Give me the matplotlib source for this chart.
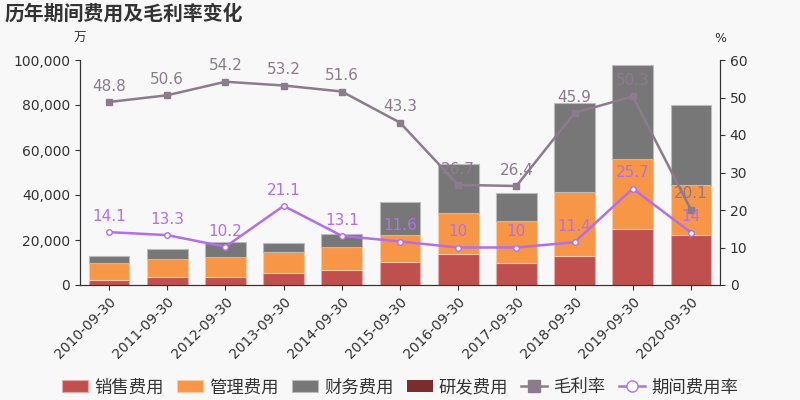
import matplotlib.pyplot as plt
import numpy as np
from matplotlib.ticker import FuncFormatter

plt.rcParams['font.family'] = ['DejaVu Sans', 'Noto Sans CJK SC']

dates = ['2010-09-30', '2011-09-30', '2012-09-30', '2013-09-30', '2014-09-30',
         '2015-09-30', '2016-09-30', '2017-09-30', '2018-09-30', '2019-09-30',
         '2020-09-30']
# 万元, stacked totals
sales = [2350, 3700, 3700, 5200, 6800, 10350, 13600, 9900, 12900, 24900, 22300]
admin = [7300, 8000, 8600, 9300, 9950, 11850, 18200, 18650, 28400, 31050, 22200]
finance = [3250, 4150, 6650, 4300, 5900, 14500, 21900, 12150, 39400, 41750, 35400]
rnd = [0, 0, 0, 0, 0, 0, 0, 0, 0, 0, 0]
gross_margin = [48.8, 50.6, 54.2, 53.2, 51.6, 43.3, 26.7, 26.4, 45.9, 50.3, 20.1]
expense_rate = [14.1, 13.3, 10.2, 21.1, 13.1, 11.6, 10, 10, 11.4, 25.7, 14]

c_sales = '#c0504d'
c_admin = '#f79646'
c_fin = '#777777'
c_rnd = '#7b2c2c'
c_gm = '#8c7b8c'
c_er = '#b36ee8'
bg = '#f8f8f8'

fig = plt.figure(figsize=(8, 4), dpi=100, facecolor=bg)
ax = fig.add_axes([0.1, 0.2875, 0.8, 0.5625], facecolor=bg)
ax2 = ax.twinx()

x = np.arange(len(dates))
w = 0.7
b1 = np.array(sales)
b2 = b1 + np.array(admin)
b3 = b2 + np.array(finance)
ax.bar(x, sales, w, color=c_sales, edgecolor='#e8a8a6', linewidth=0.8, label='销售费用')
ax.bar(x, admin, w, bottom=b1, color=c_admin, edgecolor='#fbcaa2', linewidth=0.8, label='管理费用')
ax.bar(x, finance, w, bottom=b2, color=c_fin, edgecolor='#bbbbbb', linewidth=0.8, label='财务费用')
ax.bar(x, rnd, w, bottom=b3, color=c_rnd, label='研发费用')

ax.set_xlim(-0.5, len(dates) - 0.5)
ax.set_ylim(0, 100000)
ax.set_yticks(np.arange(0, 100001, 20000))
ax.yaxis.set_major_formatter(FuncFormatter(lambda v, p: f'{int(v):,}'))
ax.set_xticks(x)
ax.set_xticklabels(dates, rotation=45, ha='right', rotation_mode='anchor', fontsize=10, color='#333333')

ax2.set_ylim(0, 60)
ax2.set_yticks(np.arange(0, 61, 10))

l1, = ax2.plot(x, gross_margin, color=c_gm, lw=1.8, marker='s', ms=4, label='毛利率')
l2, = ax2.plot(x, expense_rate, color=c_er, lw=1.8, marker='o', ms=4,
               markerfacecolor='white', markeredgecolor=c_er, label='期间费用率')
for xi, v in zip(x, gross_margin):
    ax2.text(xi, v + 2.2, f'{v:g}', color=c_gm, ha='center', va='bottom', fontsize=11)
for xi, v in zip(x, expense_rate):
    ax2.text(xi, v + 2.2, f'{v:g}', color=c_er, ha='center', va='bottom', fontsize=11)

for a in (ax, ax2):
    a.spines['top'].set_visible(False)
    a.tick_params(colors='#333333', labelsize=10)
    a.spines['left'].set_color('#333333')
    a.spines['right'].set_color('#333333')
    a.spines['bottom'].set_color('#333333')

fig.text(0.006, 0.965, '历年期间费用及毛利率变化', fontsize=14.3, fontweight='bold', color='#333333', va='center')
fig.text(0.1, 0.905, '万', fontsize=9, color='#333333', ha='center', va='center')
fig.text(0.9, 0.905, '%', fontsize=9, color='#333333', ha='center', va='center')

handles, labels = ax.get_legend_handles_labels()
handles += [l1, l2]
labels += ['毛利率', '期间费用率']
leg = fig.legend(handles, labels, loc='lower center', bbox_to_anchor=(0.5, -0.03), ncol=6,
                 frameon=False, fontsize=12.5, handlelength=1.5, columnspacing=0.75,
                 handletextpad=0.36, markerscale=2)
for t in leg.get_texts():
    t.set_color('#333333')

fig.savefig('out.png', dpi=100, facecolor=bg)
